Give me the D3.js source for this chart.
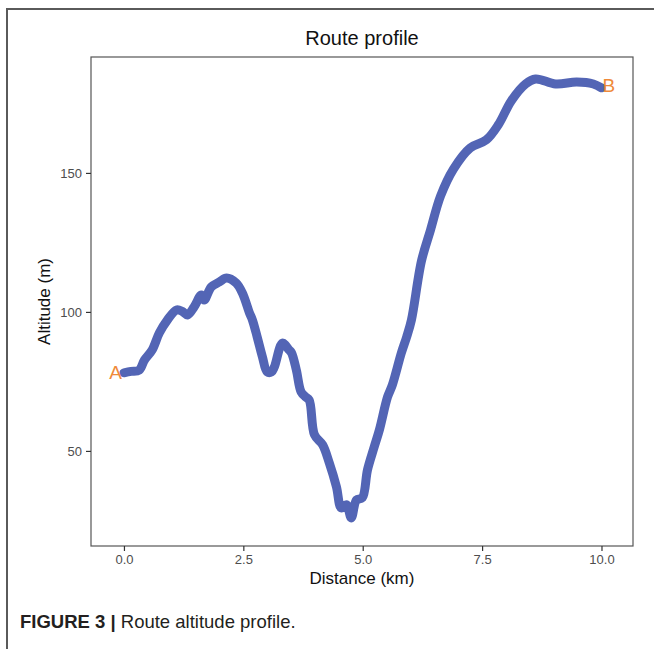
<!DOCTYPE html>
<html>
<head>
<meta charset="utf-8">
<script src="https://cdn.jsdelivr.net/npm/d3@7"></script>
<style>
  body { margin: 0; background: #fff; }
  svg { display: block; font-family: "Liberation Sans", Arial, sans-serif; }
</style>
</head>
<body>
<div class="chart"></div>
<script>
// route profile (km, m)
const distance = [0.0, 0.15, 0.32, 0.43, 0.59, 0.74, 0.91, 1.10, 1.22, 1.33, 1.47, 1.62, 1.68, 1.83, 2.00, 2.15, 2.35, 2.48,
  2.63, 2.69, 2.79, 2.90, 3.00, 3.09, 3.15, 3.32, 3.46, 3.51, 3.61, 3.71, 3.80, 3.88, 3.99, 4.16, 4.30, 4.45,
  4.55, 4.66, 4.76, 4.87, 4.99, 5.10, 5.24, 5.35, 5.52, 5.62, 5.81, 5.92, 6.02, 6.23, 6.42, 6.63, 6.90,
  7.25, 7.59, 7.84, 8.11, 8.41, 8.62, 9.04, 9.48, 9.83, 10.0];
const altitude = [78.1, 78.6, 79.1, 82.7, 86.3, 92.4, 97.1, 100.7, 100.2, 98.9, 101.8, 106.1, 104.3, 109.0, 110.8, 112.2, 110.4, 106.8,
  99.6, 97.1, 91.0, 83.8, 78.4, 78.4, 80.2, 88.8, 86.3, 85.3, 79.1, 71.2, 69.5, 68.3, 55.8, 52.2, 45.7, 37.1,
  29.5, 30.6, 25.9, 32.4, 33.1, 43.2, 51.4, 57.6, 69.4, 73.7, 85.3, 91.0, 97.1, 118.3, 129.5, 141.7, 151.4,
  159.0, 161.9, 167.3, 175.9, 182.0, 183.8, 182.0, 182.7, 182.0, 180.6];
const xTicks = [0, 2.5, 5, 7.5, 10];
const yTicks = [50, 100, 150];
const endLabels = ["A", "B"];

const data = distance.map((d, i) => ({ km: d, alt: altitude[i] }));

const svgWidth = 654;
const svgHeight = 649;
const svg = d3.select(".chart").append("svg")
  .attr("width", svgWidth).attr("height", svgHeight);

// outer figure frame
svg.append("rect")
  .attr("x", 7).attr("y", 9)
  .attr("width", 700).attr("height", 700)
  .attr("fill", "none").attr("stroke", "#5a5a5a").attr("stroke-width", 2);

const panel = { left: 91, top: 57, right: 633, bottom: 546 };

const xScale = d3.scaleLinear()
  .domain([-0.69, 10.66])
  .range([panel.left, panel.right]);
const yScale = d3.scaleLinear()
  .domain([15.8, 191.7])
  .range([panel.bottom, panel.top]);

svg.append("rect")
  .attr("x", panel.left).attr("y", panel.top)
  .attr("width", panel.right - panel.left).attr("height", panel.bottom - panel.top)
  .attr("fill", "none").attr("stroke", "#555").attr("stroke-width", 1.2);

const xAxisG = svg.append("g")
  .attr("transform", `translate(0, ${panel.bottom})`)
  .call(d3.axisBottom(xScale).tickValues(xTicks).tickFormat(d3.format(".1f")).tickSize(5).tickPadding(4));
xAxisG.select(".domain").remove();

const yAxisG = svg.append("g")
  .attr("transform", `translate(${panel.left}, 0)`)
  .call(d3.axisLeft(yScale).tickValues(yTicks).tickFormat(d3.format("d")).tickSize(5).tickPadding(4));
yAxisG.select(".domain").remove();

svg.selectAll(".tick line").attr("stroke", "#333").attr("stroke-width", 1.2);
svg.selectAll(".tick text")
  .attr("fill", "#4d4d4d")
  .style("font-size", "13px")
  .style("font-family", "Liberation Sans, Arial, sans-serif");

const line = d3.line()
  .curve(d3.curveCatmullRom.alpha(0.5))
  .x((d) => xScale(d.km))
  .y((d) => yScale(d.alt));

svg.append("path")
  .datum(data)
  .attr("d", line)
  .attr("fill", "none")
  .attr("stroke", "#5365b5")
  .attr("stroke-width", 9)
  .attr("stroke-linejoin", "round")
  .attr("stroke-linecap", "round");

const first = data[0];
const last = data[data.length - 1];
svg.append("text")
  .text(endLabels[0])
  .attr("x", xScale(first.km) - 2)
  .attr("y", yScale(first.alt))
  .attr("text-anchor", "end")
  .attr("dominant-baseline", "central")
  .attr("fill", "#ef8a3a")
  .style("font-size", "19px");
svg.append("text")
  .text(endLabels[1])
  .attr("x", xScale(last.km) + 1)
  .attr("y", yScale(last.alt) - 2)
  .attr("text-anchor", "start")
  .attr("dominant-baseline", "central")
  .attr("fill", "#ef8a3a")
  .style("font-size", "19px");

svg.append("text")
  .text("Route profile")
  .attr("x", (panel.left + panel.right) / 2)
  .attr("y", 45)
  .attr("text-anchor", "middle")
  .attr("fill", "#111")
  .style("font-size", "20px");

svg.append("text")
  .text("Distance (km)")
  .attr("x", (panel.left + panel.right) / 2)
  .attr("y", 584)
  .attr("text-anchor", "middle")
  .attr("fill", "#111")
  .style("font-size", "17px");

svg.append("text")
  .text("Altitude (m)")
  .attr("transform", `translate(50, ${(panel.top + panel.bottom) / 2}) rotate(-90)`)
  .attr("text-anchor", "middle")
  .attr("fill", "#111")
  .style("font-size", "17px");

const caption = svg.append("text")
  .attr("x", 20)
  .attr("y", 628)
  .attr("fill", "#231f20")
  .style("font-size", "18.5px");
caption.append("tspan").attr("font-weight", "bold").text("FIGURE 3 | ");
caption.append("tspan").text("Route altitude profile.");
</script>
</body>
</html>
